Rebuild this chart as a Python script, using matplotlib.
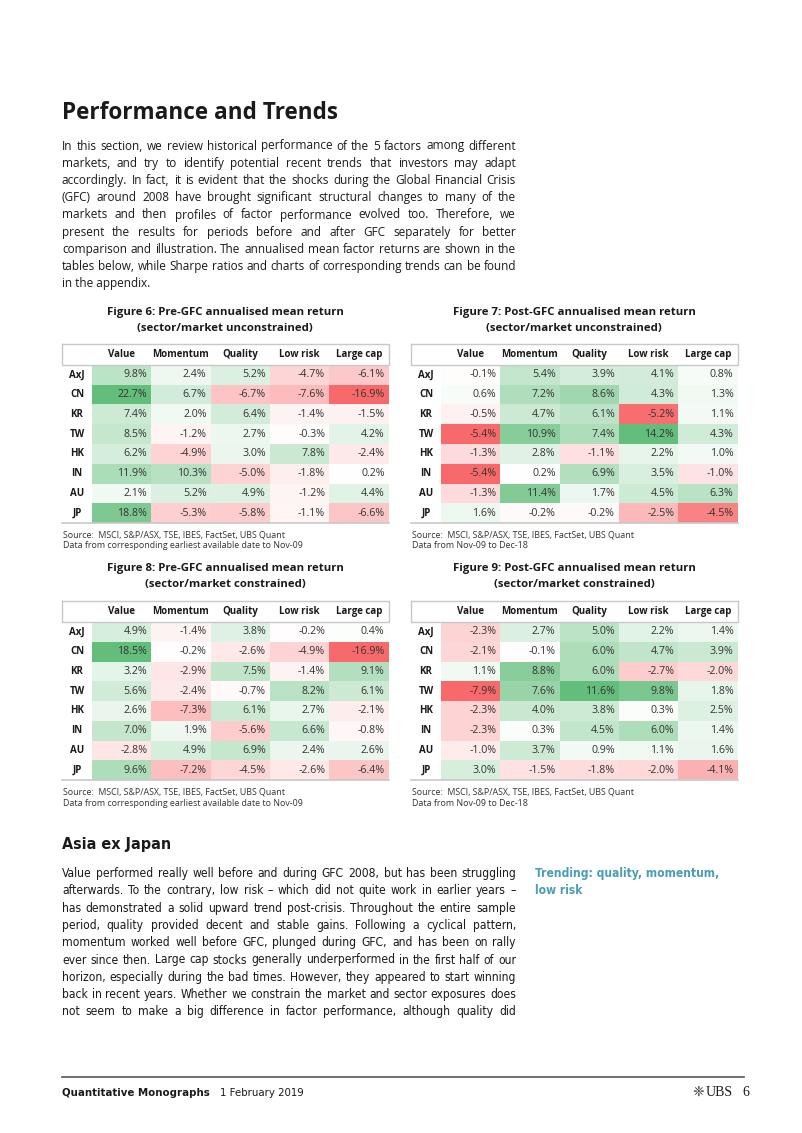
import numpy as np
import matplotlib
matplotlib.use("Agg")
import matplotlib.pyplot as plt
import matplotlib.font_manager as fm
from matplotlib.colors import LinearSegmentedColormap, TwoSlopeNorm

W, H = 802, 1133

# ---- data -------------------------------------------------------------
factors = ['Value', 'Momentum', 'Quality', 'Low risk', 'Large cap']
markets = ['AxJ', 'CN', 'KR', 'TW', 'HK', 'IN', 'AU', 'JP']

pre_unconstrained = [
    [9.8, 2.4, 5.2, -4.7, -6.1],
    [22.7, 6.7, -6.7, -7.6, -16.9],
    [7.4, 2.0, 6.4, -1.4, -1.5],
    [8.5, -1.2, 2.7, -0.3, 4.2],
    [6.2, -4.9, 3.0, 7.8, -2.4],
    [11.9, 10.3, -5.0, -1.8, 0.2],
    [2.1, 5.2, 4.9, -1.2, 4.4],
    [18.8, -5.3, -5.8, -1.1, -6.6],
]
post_unconstrained = [
    [-0.1, 5.4, 3.9, 4.1, 0.8],
    [0.6, 7.2, 8.6, 4.3, 1.3],
    [-0.5, 4.7, 6.1, -5.2, 1.1],
    [-5.4, 10.9, 7.4, 14.2, 4.3],
    [-1.3, 2.8, -1.1, 2.2, 1.0],
    [-5.4, 0.2, 6.9, 3.5, -1.0],
    [-1.3, 11.4, 1.7, 4.5, 6.3],
    [1.6, -0.2, -0.2, -2.5, -4.5],
]
pre_constrained = [
    [4.9, -1.4, 3.8, -0.2, 0.4],
    [18.5, -0.2, -2.6, -4.9, -16.9],
    [3.2, -2.9, 7.5, -1.4, 9.1],
    [5.6, -2.4, -0.7, 8.2, 6.1],
    [2.6, -7.3, 6.1, 2.7, -2.1],
    [7.0, 1.9, -5.6, 6.6, -0.8],
    [-2.8, 4.9, 6.9, 2.4, 2.6],
    [9.6, -7.2, -4.5, -2.6, -6.4],
]
post_constrained = [
    [-2.3, 2.7, 5.0, 2.2, 1.4],
    [-2.1, -0.1, 6.0, 4.7, 3.9],
    [1.1, 8.8, 6.0, -2.7, -2.0],
    [-7.9, 7.6, 11.6, 9.8, 1.8],
    [-2.3, 4.0, 3.8, 0.3, 2.5],
    [-2.3, 0.3, 4.5, 6.0, 1.4],
    [-1.0, 3.7, 0.9, 1.1, 1.6],
    [3.0, -1.5, -1.8, -2.0, -4.1],
]

fig_titles = [
    ('Figure 6: Pre-GFC annualised mean return', '(sector/market unconstrained)'),
    ('Figure 7: Post-GFC annualised mean return', '(sector/market unconstrained)'),
    ('Figure 8: Pre-GFC annualised mean return', '(sector/market constrained)'),
    ('Figure 9: Post-GFC annualised mean return', '(sector/market constrained)'),
]
source_line = 'Source:  MSCI, S&P/ASX, TSE, IBES, FactSet, UBS Quant'
period_pre = 'Data from corresponding earliest available date to Nov-09'
period_post = 'Data from Nov-09 to Dec-18'

intro_lines = [
    "In this section, we review historical performance of the 5 factors among different",
    "markets, and try to identify potential recent trends that investors may adapt",
    "accordingly. In fact, it is evident that the shocks during the Global Financial Crisis",
    "(GFC) around 2008 have brought significant structural changes to many of the",
    "markets and then profiles of factor performance evolved too. Therefore, we",
    "present the results for periods before and after GFC separately for better",
    "comparison and illustration. The annualised mean factor returns are shown in the",
    "tables below, while Sharpe ratios and charts of corresponding trends can be found",
    "in the appendix.",
]
asia_lines = [
    "Value performed really well before and during GFC 2008, but has been struggling",
    "afterwards. To the contrary, low risk \u2013 which did not quite work in earlier years \u2013",
    "has demonstrated a solid upward trend post-crisis. Throughout the entire sample",
    "period, quality provided decent and stable gains. Following a cyclical pattern,",
    "momentum worked well before GFC, plunged during GFC, and has been on rally",
    "ever since then. Large cap stocks generally underperformed in the first half of our",
    "horizon, especially during the bad times. However, they appeared to start winning",
    "back in recent years. Whether we constrain the market and sector exposures does",
    "not seem to make a big difference in factor performance, although quality did",
]
side_note = ['Trending: quality, momentum,', 'low risk']

# ---- fonts ------------------------------------------------------------
SANS = 'Open Sans'
names = {f.name for f in fm.fontManager.ttflist}
if 'Liberation Sans Narrow' in names:
    COND = dict(family='Liberation Sans Narrow')
else:
    COND = dict(family='DejaVu Sans', stretch='condensed')

TEXT = '#1a1a1a'
TEAL = '#4a9db5'
GRID = '#c8c8c8'
cmap = LinearSegmentedColormap.from_list('rwg', ['#F8696B', '#FFFFFF', '#63BE7B'])

fig = plt.figure(figsize=(W / 100, H / 100), dpi=100)
page = fig.add_axes([0, 0, 1, 1])
page.set_xlim(0, W)
page.set_ylim(H, 0)
page.axis('off')
renderer = fig.canvas.get_renderer()


def text_width(s, **kw):
    t = page.text(0, 0, s, **kw)
    w = t.get_window_extent(renderer).width
    t.remove()
    return w


def fit(s, target, **kw):
    return 10 * target / text_width(s, fontsize=10, **kw)


def paragraph(lines, x0, x1, y, step, size, justify_last=False, **kw):
    for k, line in enumerate(lines):
        yb = y + k * step
        words = line.split(' ')
        last = (k == len(lines) - 1) and not justify_last
        if last or len(words) == 1:
            page.text(x0, yb, line, fontsize=size, va='baseline', color=TEXT, **kw)
            continue
        widths = [text_width(w, fontsize=size, **kw) for w in words]
        gap = (x1 - x0 - sum(widths)) / (len(words) - 1)
        x = x0
        for w, wd in zip(words, widths):
            page.text(x, yb, w, fontsize=size, va='baseline', color=TEXT, **kw)
            x += wd + gap


# ---- headings and body text ------------------------------------------
page.text(62, 119, 'Performance and Trends', family=SANS, fontweight='bold', color=TEXT,
          fontsize=fit('Performance and Trends', 276, family=SANS, fontweight='bold'), va='baseline')

intro_size = min(fit(l, 450, family=SANS) for l in intro_lines[:-1])
paragraph(intro_lines, 62, 516, 149.5, 17.25, intro_size, family=SANS)

page.text(62, 849, 'Asia ex Japan', fontweight='bold', color=TEXT, va='baseline',
          fontsize=11.5, **COND)
asia_size = min(fit(l, 450, **COND) for l in asia_lines)
paragraph(asia_lines, 62, 516, 877, 17.3, asia_size, justify_last=True, **COND)

note_size = fit(side_note[0], 182, fontweight='bold', **COND)
for k, s in enumerate(side_note):
    page.text(535, 877 + k * 17.3, s, fontsize=note_size, fontweight='bold', color=TEAL,
              va='baseline', **COND)

# ---- tables -----------------------------------------------------------
LAB_W, COL_W, HDR_H, ROW_H = 30, 59.3, 21, 19.75
val_size = fit('22.7%', 30, family=SANS)
hdr_size = fit('Momentum', 57, family=SANS, fontweight='bold')
title_size = fit(fig_titles[0][0], 236, family=SANS, fontweight='bold')
src_size = fit(source_line, 222, family=SANS)


def draw_table(left, top, values, title, period):
    x0, y0 = left + LAB_W, top + HDR_H
    x1, y1 = x0 + 5 * COL_W, y0 + 8 * ROW_H
    ax = fig.add_axes([x0 / W, 1 - y1 / H, (x1 - x0) / W, (y1 - y0) / H])
    vals = np.array(values)
    norm = TwoSlopeNorm(vmin=vals.min(), vcenter=0, vmax=vals.max())
    ax.pcolormesh(np.arange(6), np.arange(9), vals, cmap=cmap, norm=norm)
    ax.set_xlim(0, 5)
    ax.set_ylim(8, 0)
    ax.axis('off')
    lw = LAB_W / COL_W
    hh = HDR_H / ROW_H
    pad = 4 / COL_W
    for i, m in enumerate(markets):
        ax.text(-lw / 2, i + 0.5, m, ha='center', va='center', family=SANS,
                fontweight='bold', fontsize=hdr_size, color=TEXT, clip_on=False)
    for j, f in enumerate(factors):
        ax.text(j + 0.5, -hh / 2, f, ha='center', va='center', family=SANS,
                fontweight='bold', fontsize=hdr_size, color=TEXT, clip_on=False)
    for i in range(len(markets)):
        for j in range(len(factors)):
            ax.text(j + 1 - pad, i + 0.5, f'{vals[i, j]:.1f}%', ha='right', va='center',
                    family=SANS, fontsize=val_size, color='#333333')
    ax.plot([-lw, 5, 5, -lw, -lw], [-hh, -hh, 0, 0, -hh], color=GRID, lw=1.0, clip_on=False)
    ax.plot([-lw, 5], [8, 8], color=GRID, lw=1.2, clip_on=False)
    cx = (left + x1) / 2
    page.text(cx, top - 32, title[0], ha='center', va='center', family=SANS,
              fontweight='bold', fontsize=title_size, color=TEXT)
    page.text(cx, top - 16, title[1], ha='center', va='center', family=SANS,
              fontweight='bold', fontsize=title_size, color=TEXT)
    page.text(left + 1, y1 + 12, source_line, va='center', family=SANS,
              fontsize=src_size, color='#333333')
    page.text(left + 1, y1 + 23, period, va='center', family=SANS,
              fontsize=src_size, color='#333333')


draw_table(62, 344, pre_unconstrained, fig_titles[0], period_pre)
draw_table(411, 344, post_unconstrained, fig_titles[1], period_post)
draw_table(62, 601, pre_constrained, fig_titles[2], period_pre)
draw_table(411, 601, post_constrained, fig_titles[3], period_post)

# ---- footer -----------------------------------------------------------
page.plot([62, 744], [1077, 1077], color='#555555', lw=1.2)
foot_size = fit('Quantitative Monographs', 146, fontweight='bold', **COND)
page.text(62, 1096, 'Quantitative Monographs', fontsize=foot_size, fontweight='bold',
          color=TEXT, va='baseline', **COND)
page.text(220, 1096, '1 February 2019', fontsize=foot_size, color=TEXT, va='baseline', **COND)
page.text(704, 1096, '\u2748', fontsize=10, color='#333333', ha='right', va='baseline',
          family='DejaVu Sans')
page.text(706, 1096, 'UBS', fontsize=10, color=TEXT, va='baseline', family='Liberation Serif')
page.text(742, 1096, '6', fontsize=10, color=TEXT, va='baseline', family='Liberation Serif')

fig.savefig('out.png', dpi=100, facecolor='white')
